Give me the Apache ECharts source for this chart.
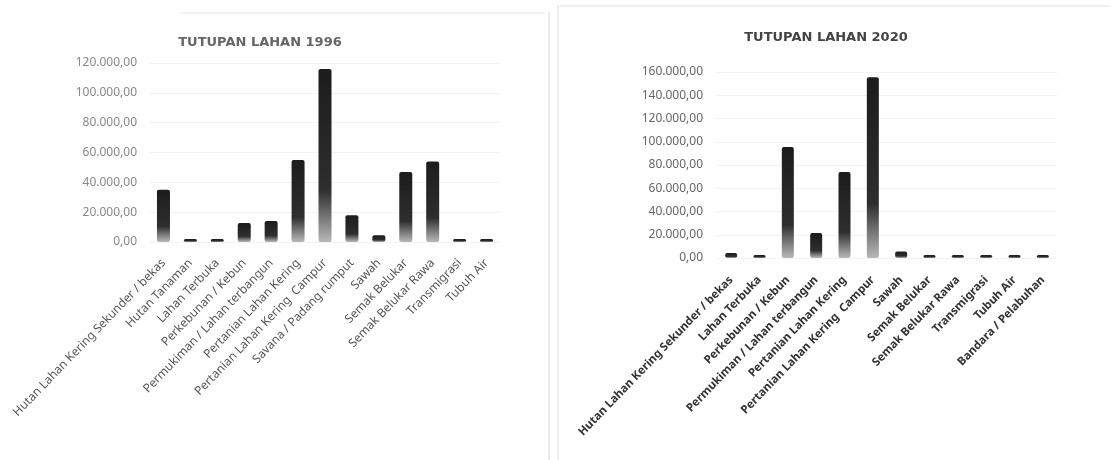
<!DOCTYPE html>
<html>
<head>
<meta charset="utf-8">
<script src="https://cdn.jsdelivr.net/npm/echarts@6/dist/echarts.min.js"></script>
<style>
  html, body { margin: 0; padding: 0; background: #fff; }
  #chart { width: 1116px; height: 460px; }
</style>
</head>
<body>
<div id="chart"></div>
<script>
// data
var kategori1996 = ['Hutan Lahan Kering Sekunder / bekas', 'Hutan Tanaman', 'Lahan Terbuka', 'Perkebunan / Kebun',
    'Permukiman / Lahan terbangun', 'Pertanian Lahan Kering', 'Pertanian Lahan Kering  Campur', 'Savana / Padang rumput',
    'Sawah', 'Semak Belukar', 'Semak Belukar Rawa', 'Transmigrasi', 'Tubuh Air'];
var luas1996 = [35000, 1000, 600, 12700, 14000, 55000, 116000, 18000, 4500, 47000, 54000, 900, 1200];

var kategori2020 = ['Hutan Lahan Kering Sekunder / bekas', 'Lahan Terbuka', 'Perkebunan / Kebun', 'Permukiman / Lahan terbangun',
    'Pertanian Lahan Kering', 'Pertanian Lahan Kering  Campur', 'Sawah', 'Semak Belukar', 'Semak Belukar Rawa',
    'Transmigrasi', 'Tubuh Air', 'Bandara / Pelabuhan'];
var luas2020 = [4200, 1500, 95500, 21500, 74000, 155500, 5500, 900, 900, 1000, 1200, 700];

var judul = ['TUTUPAN LAHAN 1996', 'TUTUPAN LAHAN 2020'];

// format angka gaya Indonesia: 120.000,00
function fmt(v) {
    var s = String(Math.round(v));
    s = s.replace(/\B(?=(\d{3})+(?!\d))/g, '.');
    return s + ',00';
}

var barColor = {
    type: 'linear', x: 0, y: 0, x2: 0, y2: 1,
    colorStops: [
        {offset: 0, color: '#1c1c1c'},
        {offset: 0.7, color: '#2e2e2e'},
        {offset: 1, color: '#b8b8b8'}
    ]
};

var fontFam = '"Noto Sans", sans-serif';

var chart = echarts.init(document.getElementById('chart'));
var option = {
    backgroundColor: '#fff',
    animation: false,
    title: [
        {text: judul[0], left: 255, top: 31, textAlign: 'center',
         textStyle: {fontSize: 13, fontWeight: 'bold', color: '#666', fontFamily: '"DejaVu Sans", sans-serif'}},
        {text: judul[1], left: 821, top: 26, textAlign: 'center',
         textStyle: {fontSize: 13, fontWeight: 'bold', color: '#444', fontFamily: '"DejaVu Sans", sans-serif'}}
    ],
    graphic: [
        {type: 'line', shape: {x1: 549, y1: 12, x2: 549, y2: 460}, style: {stroke: '#d8d8d8', lineWidth: 1}},
        {type: 'line', shape: {x1: 558, y1: 6, x2: 558, y2: 460}, style: {stroke: '#dcdcdc', lineWidth: 1}},
        {type: 'line', shape: {x1: 558, y1: 6, x2: 1110, y2: 6}, style: {stroke: '#e2e2e2', lineWidth: 1}},
        {type: 'line', shape: {x1: 180, y1: 13, x2: 545, y2: 13}, style: {stroke: '#e6e6e6', lineWidth: 1}}
    ],
    grid: [
        {left: 150, right: 616, top: 63, bottom: 218},
        {left: 717, right: 59, top: 72, bottom: 202}
    ],
    xAxis: [
        {type: 'category', gridIndex: 0, data: kategori1996,
         axisLine: {show: false}, axisTick: {show: false},
         axisLabel: {interval: 0, rotate: 46, fontSize: 12, color: '#555', fontFamily: fontFam, margin: 19}},
        {type: 'category', gridIndex: 1, data: kategori2020,
         axisLine: {show: false}, axisTick: {show: false},
         axisLabel: {interval: 0, rotate: 46, fontSize: 11.5, color: '#333', fontWeight: 'bold', fontFamily: fontFam, margin: 20}}
    ],
    yAxis: [
        {type: 'value', gridIndex: 0, min: 0, max: 120000, interval: 20000,
         axisLine: {show: false}, axisTick: {show: false},
         splitLine: {lineStyle: {color: '#f3f3f3'}},
         axisLabel: {formatter: fmt, fontSize: 12, color: '#888', fontFamily: fontFam, margin: 13}},
        {type: 'value', gridIndex: 1, min: 0, max: 160000, interval: 20000,
         axisLine: {show: false}, axisTick: {show: false},
         splitLine: {lineStyle: {color: '#f3f3f3'}},
         axisLabel: {formatter: fmt, fontSize: 12, color: '#666', fontFamily: fontFam, margin: 14}}
    ],
    series: [
        {name: judul[0], type: 'bar', xAxisIndex: 0, yAxisIndex: 0, data: luas1996,
         barWidth: 13, barMinHeight: 3, itemStyle: {color: barColor, borderRadius: 2}},
        {name: judul[1], type: 'bar', xAxisIndex: 1, yAxisIndex: 1, data: luas2020,
         barWidth: 12, barMinHeight: 3, itemStyle: {color: barColor, borderRadius: 2}}
    ]
};
chart.setOption(option);
</script>
</body>
</html>
